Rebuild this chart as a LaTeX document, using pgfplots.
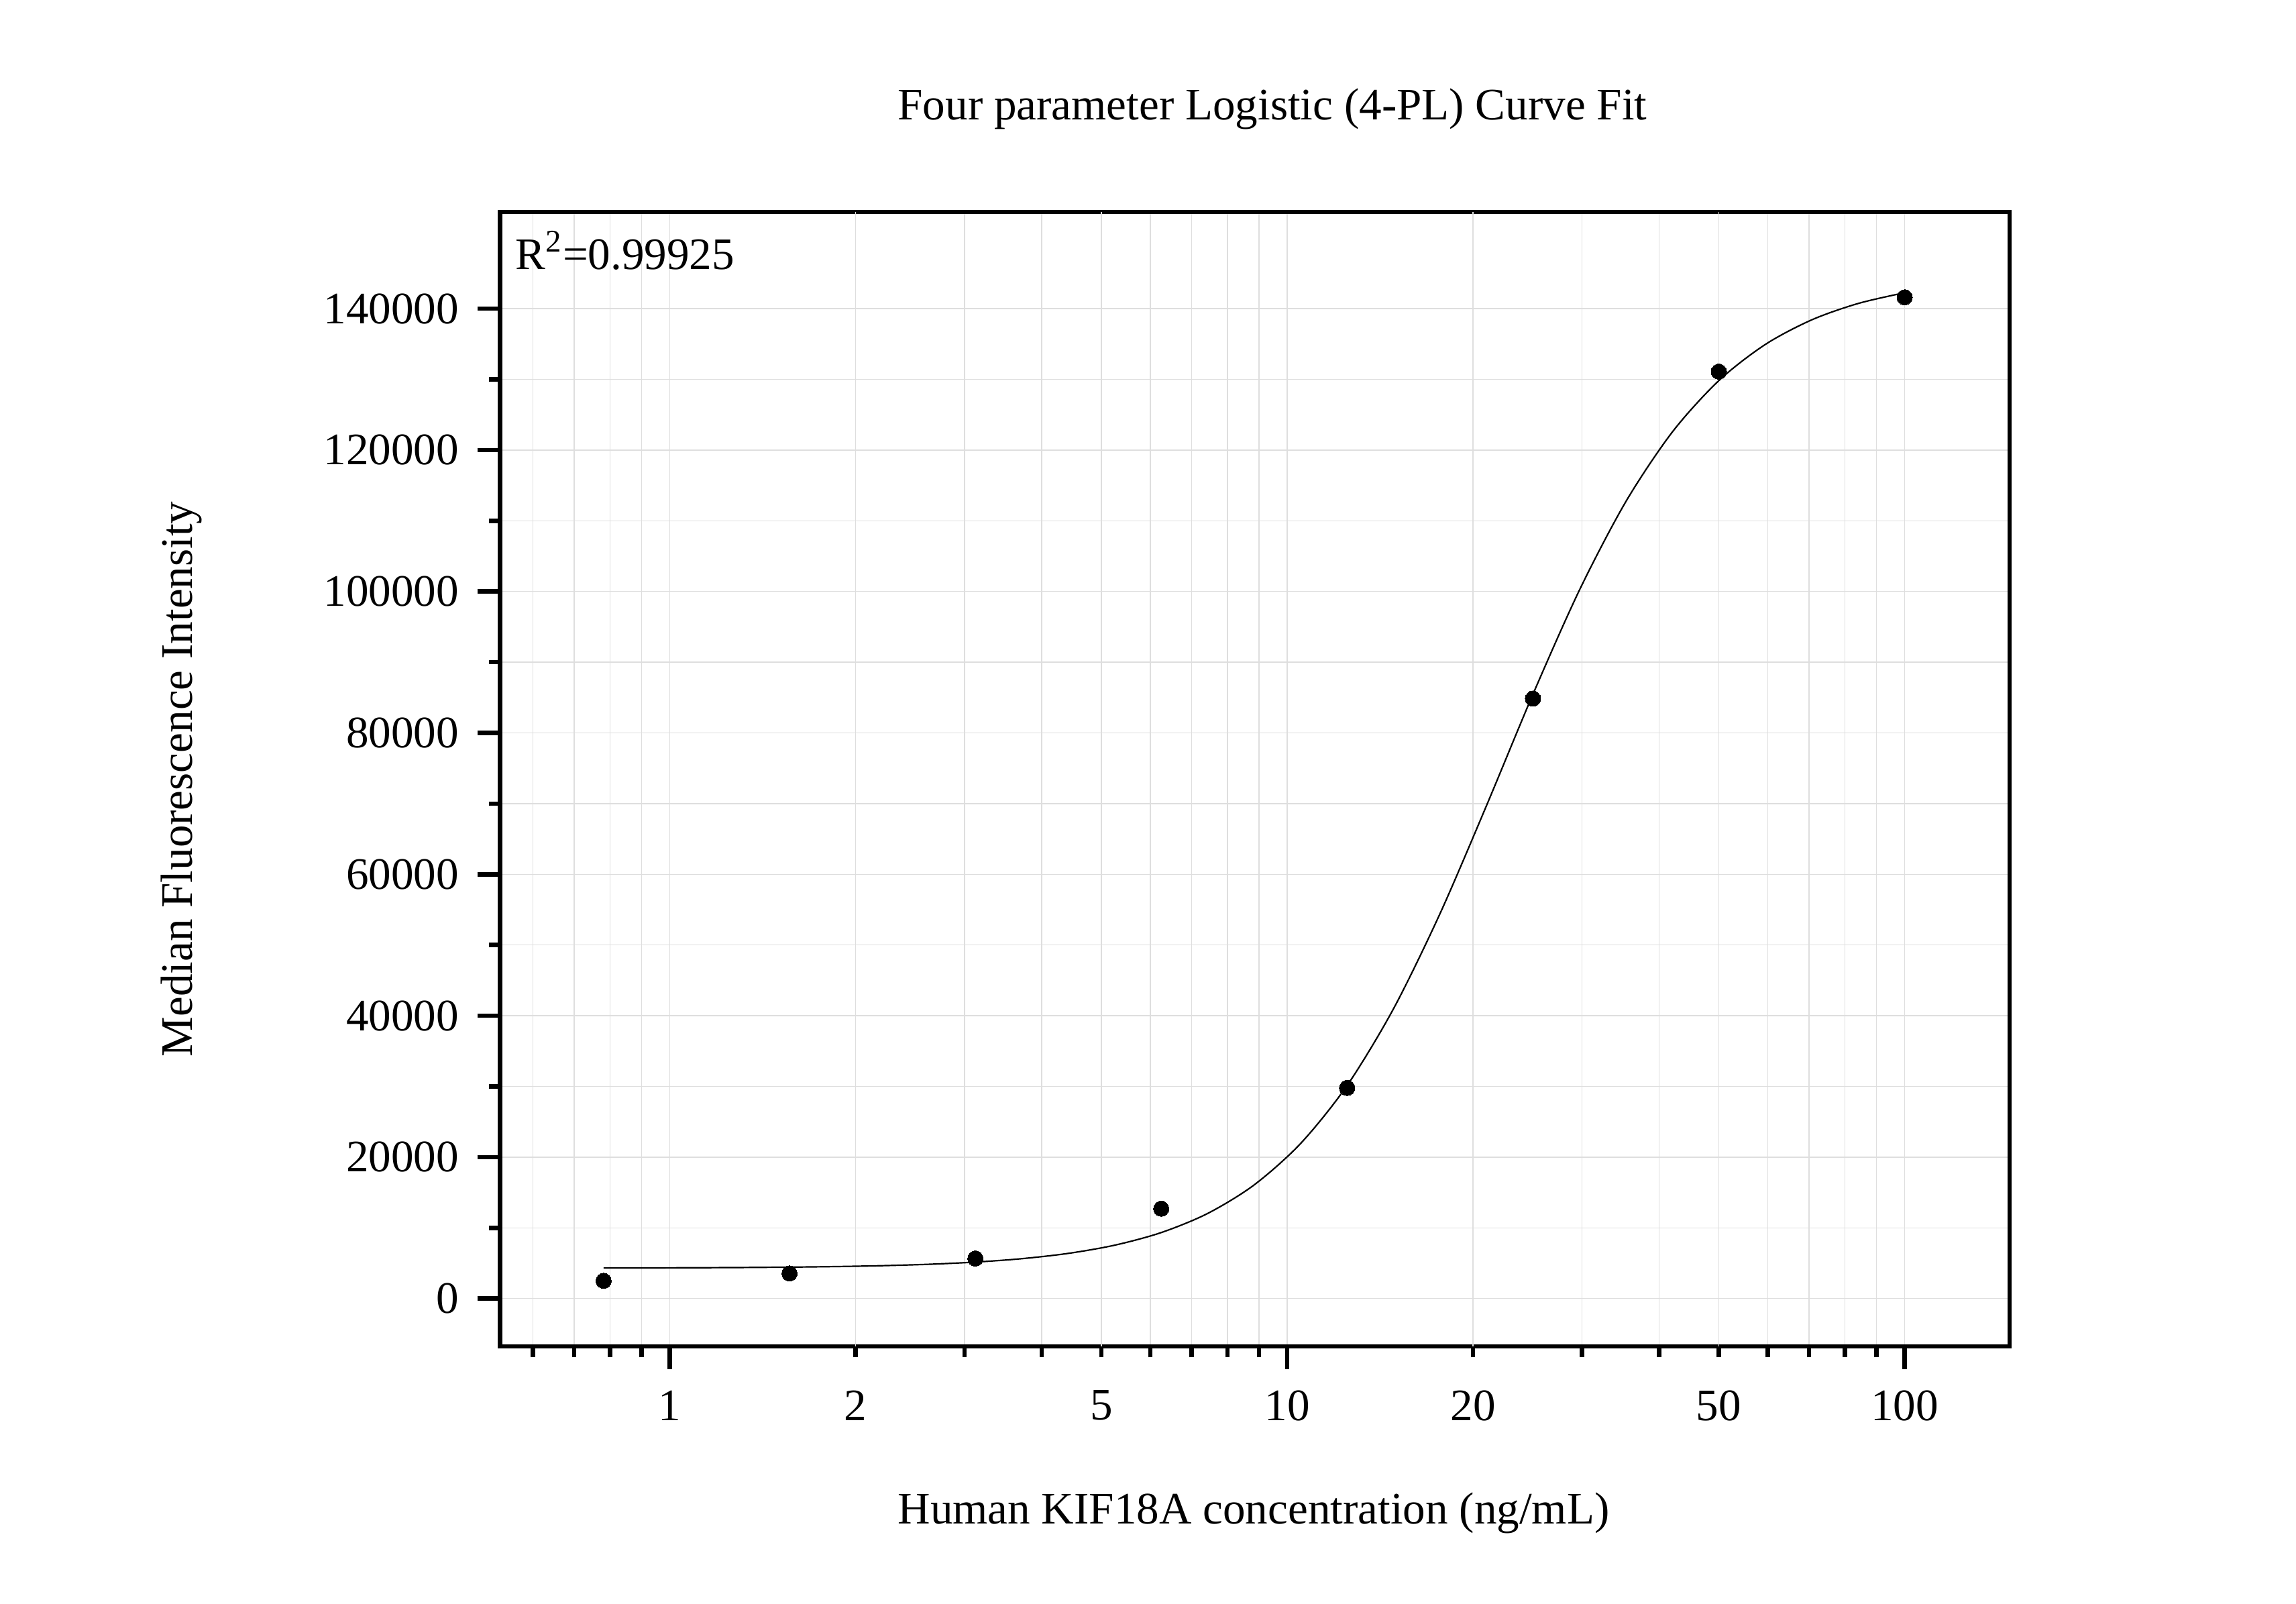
\documentclass[border=0pt]{standalone}
\usepackage{fontspec}
\setmainfont{Liberation Serif}
\usepackage{pgfplots}
\pgfplotsset{compat=1.18}
\definecolor{gridgray}{RGB}{222,222,222}

\begin{document}
\begin{tikzpicture}[font=\fontsize{19.1pt}{23pt}\selectfont]
\path[use as bounding box] (0,0) rectangle (34.23,23.91);
\begin{axis}[
  at={(7.456cm,3.84cm)}, anchor=south west,
  scale only axis, width=22.504cm, height=16.91cm,
  xmode=log, xmin=0.531, xmax=147.9,
  ymin=-6765, ymax=153670,
  axis line style={line width=0.065cm},
  tick style={line width=0.065cm, black},
  tick align=outside, tick pos=left,
  major tick length=0.34cm, minor tick length=0.165cm,
  xtick={1,10,100}, xticklabels={1,10,100},
  extra x ticks={2,5,20,50}, extra x tick labels={2,5,20,50},
  extra x tick style={major tick length=0.165cm, xticklabel style={yshift=-0.175cm}},
  minor xtick={0.6,0.7,0.8,0.9,3,4,6,7,8,9,30,40,60,70,80,90},
  ytick={0,20000,...,140000}, minor y tick num=1,
  grid=both,
  grid style={gridgray, line width=0.015cm},
  major grid style={gridgray, line width=0.015cm},
  minor grid style={gridgray, line width=0.015cm},
  scaled y ticks=false,
  /pgf/number format/fixed,
  /pgf/number format/1000 sep={},
  /pgf/number format/assume math mode=true,
  yticklabel style={inner sep=0pt, xshift=-0.27cm},
  xticklabel style={inner sep=0pt, yshift=-0.31cm},
  title={Four parameter Logistic (4-PL) Curve Fit},
  every axis title/.style={at={(axis description cs:0.5116,1.0810)}, anchor=base},
  xlabel={Human KIF18A concentration (ng/mL)},
  xlabel style={at={(axis description cs:0.4992,-0.15653)}, anchor=base},
  ylabel={Median Fluorescence Intensity},
  ylabel style={at={(axis description cs:-0.20388,0.5)}, anchor=base},
]
% fitted 4-PL curve
\addplot[black, line width=0.022cm, smooth, no marks] coordinates {
  (0.78125,4323) (0.9291,4337) (1.1049,4358) (1.3139,4390) (1.5625,4442)
  (1.8581,4522) (2.2097,4649) (2.6278,4846) (3.125,5155) (3.7163,5638)
  (4.4194,6387) (5.2556,7548) (6.25,9331) (7.4325,12035) (8.8388,16073)
  (10.511,21931) (12.5,30128) (14.865,40994) (17.678,54438) (21.022,69708)
  (25,85464) (29.730,100179) (35.355,112707) (42.045,122552) (50,129816)
  (59.460,134928) (70.711,138411) (84.090,140729) (100,142248)
};
% measured standards
\addplot[only marks, mark=*, mark size=0.115cm, mark options={fill=black, draw=black, line width=0pt}] coordinates {
  (0.78125,2505) (1.5625,3548) (3.125,5664) (6.25,12713)
  (12.5,29791) (25,84858) (50,131090) (100,141600)
};
\node[anchor=base west, inner sep=0pt] at (axis description cs:0.01009,0.94932) {R\textsuperscript{2}=0.99925};
\end{axis}
\end{tikzpicture}
\end{document}
